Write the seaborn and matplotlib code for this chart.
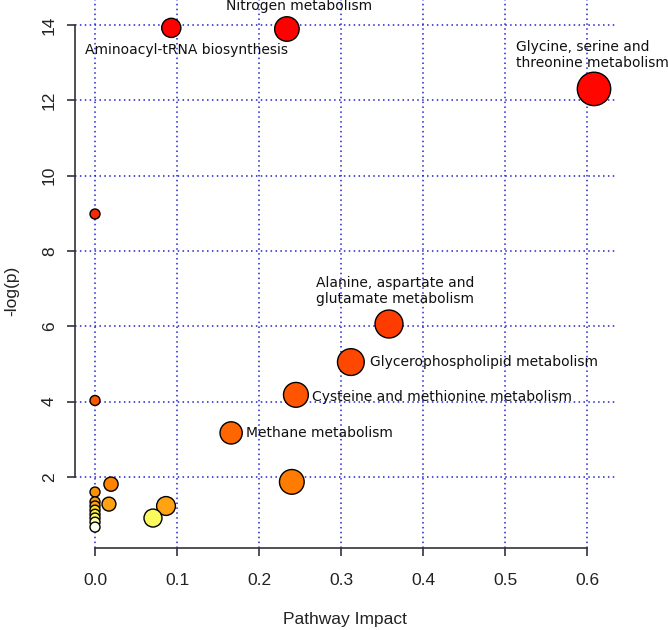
import numpy as np
import pandas as pd
import seaborn as sns
import matplotlib
matplotlib.use('Agg')
import matplotlib.pyplot as plt
from matplotlib.colors import LinearSegmentedColormap

# pathway impact (x) and -log(p) (y), ordered by p-value
impact = [0.234, 0.093, 0.6085, 0.0, 0.3585, 0.312, 0.245, 0.0, 0.166, 0.240, 0.0195,
          0.0, 0.0, 0.017, 0.0866, 0.0, 0.0, 0.0, 0.0707, 0.0, 0.0, 0.0]
neg_log_p = [13.89, 13.92, 12.3, 8.98, 6.06, 5.05, 4.18, 4.03, 3.17, 1.87, 1.81,
             1.60, 1.34, 1.28, 1.23, 1.23, 1.12, 1.01, 0.91, 0.91, 0.80, 0.67]

label_names = ['Nitrogen metabolism', 'Aminoacyl-tRNA biosynthesis',
               'Glycine, serine and\nthreonine metabolism',
               'Alanine, aspartate and\nglutamate metabolism',
               'Glycerophospholipid metabolism',
               'Cysteine and methionine metabolism', 'Methane metabolism']
label_x = [0.249, 0.111, 0.513, 0.2695, 0.335, 0.2646, 0.184]
label_y = [14.5, 13.33, 13.2, 6.94, 5.05, 4.12, 3.17]
label_ha = ['center', 'center', 'left', 'left', 'left', 'left', 'left']

df = pd.DataFrame({'impact': impact, 'neglogp': neg_log_p})
df = df.sort_values('neglogp', ascending=False, kind='stable')

# bubble radius in pixels grows with sqrt(impact)
radius = 5 + 15 * np.sqrt(df['impact'].to_numpy())
sizes = (2 * radius * 72 / 100) ** 2

lo, hi = 0.6, 14.0
nodes = [(0.65, '#fffff0'), (0.75, '#ffffb8'), (0.9, '#f8f840'), (1.02, '#ffe830'),
         (1.12, '#ffcc20'), (1.2, '#ffa414'), (1.7, '#ff8e00'), (1.9, '#ff7800'),
         (3.2, '#ff6600'), (4.2, '#ff5400'), (5.0, '#ff4800'), (6.0, '#ff3c00'),
         (9.0, '#f52a08'), (12.0, '#ff0800'), (14.0, '#ff0000')]
heat = LinearSegmentedColormap.from_list(
    'heat', [(0.0, '#fffff0')] + [((v - lo) / (hi - lo), c) for v, c in nodes])

plt.rcParams['font.family'] = ['DejaVu Sans']

fig = plt.figure(figsize=(6.68, 6.3), dpi=100)
ax = fig.add_axes([75 / 668, 82 / 630, 540 / 668, 548 / 630])

xt = np.round(np.arange(0, 0.61, 0.1), 1)
yt = np.arange(2, 15, 2)
for v in xt:
    ax.axvline(v, color='#2222cc', linestyle=(0, (1, 2.2)), linewidth=1.1, zorder=0)
for v in yt:
    ax.axhline(v, color='#2222cc', linestyle=(0, (1, 2.2)), linewidth=1.1, zorder=0)

sns.scatterplot(data=df, x='impact', y='neglogp', hue='neglogp', palette=heat,
                hue_norm=(lo, hi), s=sizes, edgecolor='black', linewidth=1.0,
                legend=False, ax=ax, zorder=3)

for name, tx, ty, ha in zip(label_names, label_x, label_y, label_ha):
    ax.text(tx, ty, name, ha=ha, va='center', fontsize=10, color='#111111',
            linespacing=1.15, zorder=4, clip_on=False)

ax.set_xlim(-0.0244, 0.6341)
ax.set_ylim(0.115, 14.66)
ax.set_xticks(xt)
ax.set_xticklabels([f'{v:.1f}' for v in xt])
ax.set_yticks(yt)
ax.set_yticklabels([str(v) for v in yt], rotation=90, va='center')

for side in ['top', 'right']:
    ax.spines[side].set_visible(False)
ax.spines['left'].set_bounds(2, 14)
ax.spines['bottom'].set_bounds(0, 0.6)
for side in ['left', 'bottom']:
    ax.spines[side].set_color('#333333')
    ax.spines[side].set_linewidth(1.2)
ax.tick_params(axis='both', length=6, width=1.2, color='#333333',
               labelsize=12.5, labelcolor='#222222')
ax.tick_params(axis='x', pad=12)
ax.tick_params(axis='y', pad=7)
for lab in ax.get_xticklabels() + ax.get_yticklabels():
    lab.set_family(['Liberation Sans'])

ax.set_xlabel('Pathway Impact', fontsize=12.5, family=['Liberation Sans'],
              color='#222222', va='center')
ax.set_ylabel('-log(p)', fontsize=12.5, family=['Liberation Sans'],
              color='#222222', va='center')
ax.xaxis.set_label_coords(0.5, -0.131)
ax.yaxis.set_label_coords(-0.117, 0.47)
ax.patch.set_alpha(0)

fig.savefig('out.png', dpi=100)
